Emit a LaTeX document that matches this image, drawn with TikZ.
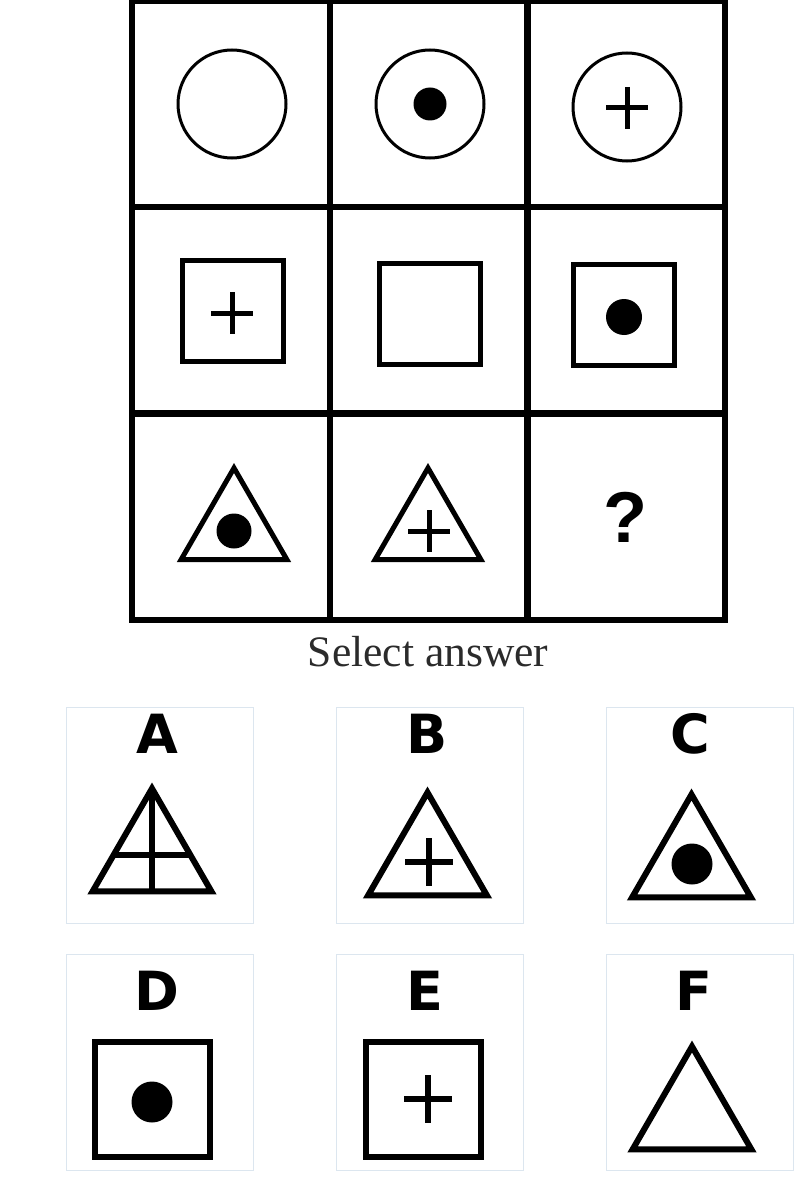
\documentclass[tikz,border=0pt]{standalone}
\usepackage{fontspec}
\setmainfont{Liberation Serif}
\newfontfamily\qfont{Liberation Sans}
\newfontfamily\optfont{DejaVu Sans}
\usetikzlibrary{shapes.geometric,calc}
\definecolor{boxline}{HTML}{DCE6EF}
\definecolor{selgray}{HTML}{2B2B2B}
\begin{document}
\begin{tikzpicture}[x=1pt,y=-1pt,
  cell/.style={draw, line width=6pt, minimum width=198pt, minimum height=206pt, inner sep=0pt, outer sep=0pt},
  ring/.style={draw, circle, line width=3pt, minimum size=108pt, inner sep=0pt, outer sep=0pt},
  sq/.style={draw, rectangle, line width=5pt, minimum size=101pt, inner sep=0pt, outer sep=0pt},
  tri/.style={draw, regular polygon, regular polygon sides=3, line width=5pt, minimum size=122pt, inner sep=0pt, outer sep=0pt},
  dot/.style={fill, circle, inner sep=0pt, outer sep=0pt, minimum size=#1},
  plus/.style={line width=5pt},
  optbox/.style={draw=boxline, line width=1pt, minimum width=187pt, minimum height=216pt, inner sep=0pt},
  optlabel/.style={anchor=base, font=\optfont\bfseries\fontsize{54}{54}\selectfont},
  opttri/.style={tri, line width=6pt, minimum size=137pt},
  optsq/.style={sq, line width=6pt, minimum size=115pt}]
\useasboundingbox (0,0) rectangle (804,1185);
\node[cell] (c11) at (231,104) {};
\node[cell] (c12) at (428.5,104) {};
\node[cell] (c13) at (626,104) {};
\node[cell] (c21) at (231,310) {};
\node[cell] (c22) at (428.5,310) {};
\node[cell] (c23) at (626,310) {};
\node[cell] (c31) at (231,517) {};
\node[cell] (c32) at (428.5,517) {};
\node[cell] (c33) at (626,517) {};
\node[ring] (r11) at (232,104) {};
\node[ring] (r12) at (430,104) {};
\node[ring] (r13) at (627,107) {};
\node[dot=33pt] (d12) at (430,104) {};
\draw[plus] (627,108) +(-21,0) -- +(21,0) +(0,-21) -- +(0,21);
\node[sq] (s21) at (233,311) {};
\node[sq] (s22) at (430,314) {};
\node[sq] (s23) at (624,315) {};
\draw[plus] (232,313) +(-21,0) -- +(21,0) +(0,-21) -- +(0,21);
\node[dot=36pt] (d23) at (624,317) {};
\node[tri] (t31) at (234,529) {};
\node[tri] (t32) at (428,529) {};
\node[dot=35pt] (d31) at (234,531) {};
\draw[plus] (429,531) +(-21,0) -- +(21,0) +(0,-21) -- +(0,21);
\node[font=\qfont\bfseries\fontsize{72}{72}\selectfont] (q) at (625,517) {?};
\node[anchor=base, text=selgray, font=\fontsize{43.5}{43.5}\selectfont] (sel) at (428,666) {Select answer};
\node[optbox] (oa) at (159.5,815) {};
\node[optbox] (ob) at (429.5,815) {};
\node[optbox] (oc) at (699.5,815) {};
\node[optbox] (od) at (159.5,1062.5) {};
\node[optbox] (oe) at (429.5,1062.5) {};
\node[optbox] (of) at (699.5,1062.5) {};
\node[optlabel] (la) at (157,753) {A};
\node[optlabel] (lb) at (427,753) {B};
\node[optlabel] (lc) at (690,753) {C};
\node[optlabel] (ld) at (157,1010) {D};
\node[optlabel] (le) at (425,1010) {E};
\node[optlabel] (lf) at (694,1010) {F};
\node[opttri] (ta) at (152,857) {};
\draw[line width=6pt] (ta.corner 1) -- (ta.side 2);
\draw[line width=6pt] ($(ta.corner 1)!0.65!(ta.corner 2)$) -- ($(ta.corner 1)!0.65!(ta.corner 3)$);
\node[opttri] (tb) at (427.5,861) {};
\draw[plus, line width=6pt] (429,862) +(-24,0) -- +(24,0) +(0,-24) -- +(0,24);
\node[opttri] (tc) at (691.5,863) {};
\node[dot=41pt] (dc) at (692,864) {};
\node[optsq] (sd) at (152.5,1099.5) {};
\node[dot=41pt] (dd) at (152,1102) {};
\node[optsq] (se) at (423.5,1099.5) {};
\draw[plus, line width=6pt] (428,1099) +(-24,0) -- +(24,0) +(0,-24) -- +(0,24);
\node[opttri] (tf) at (692,1115) {};
\end{tikzpicture}
\end{document}
